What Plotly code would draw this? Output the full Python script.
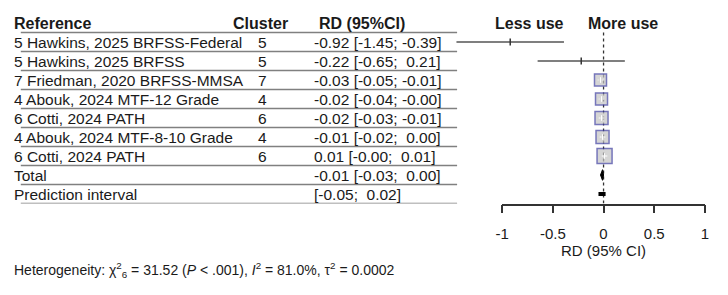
import math
import plotly.graph_objects as go

# ---------------- data ----------------
references = [
    "5 Hawkins, 2025 BRFSS-Federal",
    "5 Hawkins, 2025 BRFSS",
    "7 Friedman, 2020 BRFSS-MMSA",
    "4 Abouk, 2024 MTF-12 Grade",
    "6 Cotti, 2024 PATH",
    "4 Abouk, 2024 MTF-8-10 Grade",
    "6 Cotti, 2024 PATH",
]
clusters = [5, 5, 7, 4, 6, 4, 6]
rd = [-0.92, -0.22, -0.03, -0.02, -0.02, -0.01, 0.01]
ci_low = [-1.45, -0.65, -0.05, -0.04, -0.03, -0.02, -0.0]
ci_high = [-0.39, 0.21, -0.01, -0.0, -0.01, 0.00, 0.01]

total_rd = -0.01
total_low = -0.03
total_high = 0.00
pred_low = -0.05
pred_high = 0.02

tick_vals = [-1, -0.5, 0, 0.5, 1]
tick_text = ["-1", "-0.5", "0", "0.5", "1"]

# ---------------- styles ----------------
W, H = 728, 295
FONT = "Liberation Sans, Arial, sans-serif"
TXT = "#1a1a1a"
square_sizes = [0, 0, 12, 12, 13, 13, 15]   # 0 -> no square drawn


def neg(v):
    return math.copysign(1, v) < 0


def f2(v):
    return f"{v:.2f}"


def ci_str(lo, hi):
    a = f2(lo)
    b = f2(hi) if neg(hi) else "\u00a0" + f2(hi)
    return f"[{a}; {b}]"


fig = go.Figure()

# dummy trace so the visible axis is drawn
fig.add_trace(go.Scatter(x=[0], y=[0], xaxis="x", yaxis="y", mode="markers",
                         marker=dict(opacity=0), showlegend=False, hoverinfo="skip"))

n = len(rd)
# CI lines
for i in range(n):
    fig.add_trace(go.Scatter(x=[ci_low[i], ci_high[i]], y=[i, i], xaxis="x2", yaxis="y",
                             mode="lines", line=dict(color="#555555", width=1.5),
                             showlegend=False, hoverinfo="skip"))
# point ticks for small-weight studies
tick_idx = [i for i in range(n) if square_sizes[i] == 0]
fig.add_trace(go.Scatter(x=[rd[i] for i in tick_idx], y=tick_idx, xaxis="x2", yaxis="y",
                         mode="markers",
                         marker=dict(symbol="line-ns", size=5, line=dict(color="#333333", width=1.5)),
                         showlegend=False, hoverinfo="skip"))
# squares
sq_idx = [i for i in range(n) if square_sizes[i] > 0]
fig.add_trace(go.Scatter(x=[rd[i] for i in sq_idx], y=sq_idx, xaxis="x2", yaxis="y",
                         mode="markers",
                         marker=dict(symbol="square", size=[square_sizes[i] for i in sq_idx],
                                     color="#c4c4c4", line=dict(color="#3d3d9e", width=1.5)),
                         showlegend=False, hoverinfo="skip"))
fig.add_trace(go.Scatter(x=[rd[i] for i in sq_idx], y=sq_idx, xaxis="x2", yaxis="y",
                         mode="markers",
                         marker=dict(symbol="cross-thin", size=4, line=dict(color="white", width=1)),
                         showlegend=False, hoverinfo="skip"))
# total diamond
ty = n
fig.add_trace(go.Scatter(x=[total_low, total_rd, total_high, total_rd, total_low],
                         y=[ty, ty - 0.28, ty, ty + 0.28, ty], xaxis="x2", yaxis="y",
                         mode="lines", fill="toself", fillcolor="black",
                         line=dict(color="black", width=1), showlegend=False, hoverinfo="skip"))
# prediction interval
fig.add_trace(go.Scatter(x=[pred_low, pred_high], y=[n + 1, n + 1], xaxis="x2", yaxis="y",
                         mode="lines", line=dict(color="black", width=4),
                         showlegend=False, hoverinfo="skip"))

# ---------------- table text ----------------
ann = []
x_ref, x_clu, x_rd = 5 / W, 253 / W, 310 / W
ROW_SIZE = 15.5


def txt(x, y, s, size=16, bold=False, xanchor="left", yref="y", xref="paper"):
    ann.append(dict(x=x, y=y, xref=xref, yref=yref, text=f"<b>{s}</b>" if bold else s,
                    showarrow=False, xanchor=xanchor, yanchor="middle",
                    font=dict(family=FONT, size=size, color=TXT)))


txt(x_ref, -1, "Reference", bold=True)
txt(227 / W, -1, "Cluster", bold=True)
txt(315 / W, -1, "RD (95%CI)", bold=True)
txt(531 / W, -1, "Less use", bold=True, xanchor="center")
txt(625 / W, -1, "More use", bold=True, xanchor="center")

for i in range(n):
    txt(x_ref, i, references[i], size=ROW_SIZE)
    txt(x_clu, i, str(clusters[i]), size=ROW_SIZE)
    txt(x_rd, i, f"{f2(rd[i])} {ci_str(ci_low[i], ci_high[i])}", size=ROW_SIZE)
txt(x_ref, n, "Total", size=ROW_SIZE)
txt(x_rd, n, f"{f2(total_rd)} {ci_str(total_low, total_high)}", size=ROW_SIZE)
txt(x_ref, n + 1, "Prediction interval", size=ROW_SIZE)
txt(x_rd, n + 1, ci_str(pred_low, pred_high), size=ROW_SIZE)

txt(x_ref, 1 - 270 / H, "Heterogeneity: χ<sup>2</sup><sub>6</sub> = 31.52 (<i>P</i> &lt; .001), "
    "<i>I</i><sup>2</sup> = 81.0%, τ<sup>2</sup> = 0.0002", size=14, yref="paper")

shapes = []
for k in range(n + 3):
    shapes.append(dict(type="line", xref="paper", yref="y", x0=14 / W, x1=457 / W,
                       y0=k - 0.5, y1=k - 0.5, line=dict(color="#808080", width=1.5)))
shapes.append(dict(type="line", xref="x2", yref="y", x0=0, x1=0, y0=-0.5, y1=n + 1.5,
                   line=dict(color="#333333", width=1.3, dash="dot"), layer="below"))

# axis geometry
px_m1, px_p1 = 502.7, 708.7
scale = (px_p1 - px_m1) / 2
x2_lo = -1 - px_m1 / scale
x2_hi = -1 + (W - px_m1) / scale

fig.update_layout(
    width=W, height=H, margin=dict(l=0, r=0, t=0, b=0),
    paper_bgcolor="white", plot_bgcolor="white",
    showlegend=False,
    annotations=ann, shapes=shapes,
    xaxis=dict(domain=[px_m1 / W, px_p1 / W], range=[-1, 1], anchor="y",
               tickvals=tick_vals, ticktext=tick_text, ticks="outside", ticklen=8,
               tickwidth=1.5, tickcolor="#333333", showline=True, linecolor="#333333",
               linewidth=1.5, showgrid=False, zeroline=False,
               tickfont=dict(family=FONT, size=15, color=TXT), ticklabelstandoff=8,
               title=dict(text="RD (95% CI)", font=dict(family=FONT, size=15, color=TXT), standoff=4),
               fixedrange=True),
    xaxis2=dict(domain=[0, 1], range=[x2_lo, x2_hi], anchor="y", visible=False, fixedrange=True),
    yaxis=dict(domain=[1 - 203.5 / H, 1 - 13.5 / H], range=[n + 1.5, -1.5], visible=False,
               fixedrange=True),
)

fig.write_html("out.html")
